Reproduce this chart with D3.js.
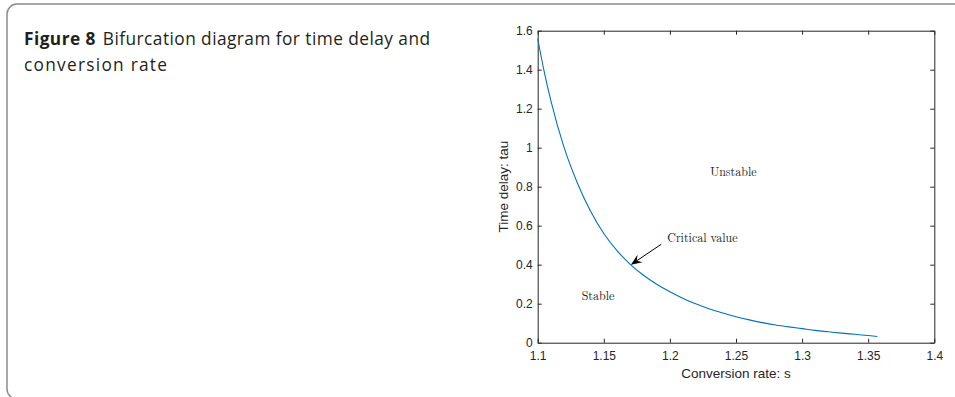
<!DOCTYPE html>
<html>
<head>
<meta charset="utf-8">
<script src="https://cdn.jsdelivr.net/npm/d3@7"></script>
<style>
  body { margin: 0; background: #fff; }
  svg { display: block; }
</style>
</head>
<body>
<div id="chart"></div>
<script>
// conversion rate s vs critical time delay tau
const convRate = [1.100, 1.105, 1.11, 1.12, 1.13, 1.14, 1.15, 1.16, 1.17, 1.18, 1.19, 1.20, 1.21, 1.22,
  1.23, 1.24, 1.25, 1.26, 1.27, 1.28, 1.29, 1.30, 1.31, 1.32, 1.33, 1.34, 1.35, 1.357];
const timeDelay = [1.56, 1.387, 1.24, 1.00, 0.819, 0.674, 0.560, 0.472, 0.402, 0.346, 0.300, 0.261, 0.227, 0.198,
  0.173, 0.152, 0.133, 0.117, 0.103, 0.091, 0.081, 0.072, 0.063, 0.056, 0.049, 0.043, 0.037, 0.032];

const xTicks = [1.1, 1.15, 1.2, 1.25, 1.3, 1.35, 1.4];
const xTickLabels = ["1.1", "1.15", "1.2", "1.25", "1.3", "1.35", "1.4"];
const yTicks = [0, 0.2, 0.4, 0.6, 0.8, 1, 1.2, 1.4, 1.6];
const yTickLabels = ["0", "0.2", "0.4", "0.6", "0.8", "1", "1.2", "1.4", "1.6"];

// annotations: [s, tau, text]
const regionLabels = [
  [1.248, 0.855, "Unstable"],
  [1.1456, 0.219, "Stable"]
];
const arrowTail = [1.1935, 0.505];
const arrowHead = [1.1705, 0.40];
const arrowText = [1.198, 0.518, "Critical value"];

const width = 955, height = 397;
const margin = { left: 537.7, right: 955 - 934.3, top: 30.7, bottom: 397 - 342.7 };

const svg = d3.select("#chart").append("svg")
  .attr("width", width)
  .attr("height", height);

// card frame with rounded corner
svg.append("rect")
  .attr("x", 7).attr("y", 4)
  .attr("width", 1000).attr("height", 395)
  .attr("rx", 10)
  .attr("fill", "none")
  .attr("stroke", "#8c8c8c")
  .attr("stroke-width", 1.5);

// caption
const capFont = "'Open Sans', sans-serif";
const cap = svg.append("text")
  .attr("x", 24).attr("y", 45)
  .attr("font-family", capFont)
  .attr("font-size", 17.3)
  .attr("fill", "#231f20")
  .attr("textLength", 406)
  .attr("lengthAdjust", "spacing");
cap.append("tspan").attr("font-weight", "bold").text("Figure 8");
cap.append("tspan").attr("dx", 7).text("Bifurcation diagram for time delay and");
svg.append("text")
  .attr("x", 24).attr("y", 71)
  .attr("font-family", capFont)
  .attr("font-size", 17.3)
  .attr("fill", "#231f20")
  .attr("textLength", 143)
  .attr("lengthAdjust", "spacing")
  .text("conversion rate");

const x = d3.scaleLinear().domain([1.1, 1.4]).range([margin.left, width - margin.right]);
const y = d3.scaleLinear().domain([0, 1.6]).range([height - margin.bottom, margin.top]);

const axisColor = "#262626";
const tickFont = "'Liberation Sans', Arial, sans-serif";

function styleAxis(g) {
  g.selectAll("path.domain").attr("stroke", axisColor).attr("stroke-width", 1);
  g.selectAll(".tick line").attr("stroke", axisColor);
  g.selectAll("text").attr("fill", axisColor).attr("font-family", tickFont).attr("font-size", 12);
}

// bottom axis (ticks inward)
svg.append("g")
  .attr("transform", `translate(0,${y(0)})`)
  .call(d3.axisBottom(x).tickValues(xTicks).tickFormat((d, i) => xTickLabels[i])
    .tickSizeInner(-4).tickSizeOuter(0).tickPadding(9))
  .call(styleAxis);

// left axis
svg.append("g")
  .attr("transform", `translate(${x(1.1)},0)`)
  .call(d3.axisLeft(y).tickValues(yTicks).tickFormat((d, i) => yTickLabels[i])
    .tickSizeInner(-4).tickSizeOuter(0).tickPadding(5))
  .call(styleAxis);

// top and right box lines
svg.append("g")
  .attr("transform", `translate(0,${y(1.6)})`)
  .call(d3.axisTop(x).tickValues(xTicks).tickFormat("").tickSizeInner(-4).tickSizeOuter(0))
  .call(styleAxis);
svg.append("g")
  .attr("transform", `translate(${x(1.4)},0)`)
  .call(d3.axisRight(y).tickValues(yTicks).tickFormat("").tickSizeInner(-4).tickSizeOuter(0))
  .call(styleAxis);

// axis labels
svg.append("text")
  .attr("x", (x(1.1) + x(1.4)) / 2).attr("y", 378)
  .attr("text-anchor", "middle")
  .attr("font-family", tickFont).attr("font-size", 13.5)
  .attr("fill", axisColor)
  .text("Conversion rate: s");

svg.append("text")
  .attr("transform", `translate(508,${(y(0) + y(1.6)) / 2}) rotate(-90)`)
  .attr("text-anchor", "middle")
  .attr("font-family", tickFont).attr("font-size", 13.5)
  .attr("fill", axisColor)
  .text("Time delay: tau");

// the critical curve
const pts = convRate.map((s, i) => [s, timeDelay[i]]);
const line = d3.line().x(d => x(d[0])).y(d => y(d[1])).curve(d3.curveMonotoneX);
svg.append("path")
  .datum(pts)
  .attr("d", line)
  .attr("fill", "none")
  .attr("stroke", "#0072BD")
  .attr("stroke-width", 1.1);

// region labels
const serif = "'Latin Modern Roman', 'DejaVu Serif', 'Liberation Serif', serif";
svg.selectAll(".region")
  .data(regionLabels)
  .enter().append("text")
  .attr("class", "region")
  .attr("x", d => x(d[0])).attr("y", d => y(d[1]))
  .attr("text-anchor", "middle")
  .attr("font-family", serif).attr("font-size", 12)
  .attr("fill", "#222")
  .text(d => d[2]);

svg.append("text")
  .attr("x", x(arrowText[0])).attr("y", y(arrowText[1]))
  .attr("font-family", serif).attr("font-size", 12)
  .attr("fill", "#222")
  .text(arrowText[2]);

// arrow
const tx = x(arrowTail[0]), ty = y(arrowTail[1]);
const hx = x(arrowHead[0]), hy = y(arrowHead[1]);
const len = Math.hypot(hx - tx, hy - ty);
const ux = (hx - tx) / len, uy = (hy - ty) / len;
const nx = -uy, ny = ux;
const hl = 11, hw = 4.5, notch = 7;
svg.append("line")
  .attr("x1", tx).attr("y1", ty)
  .attr("x2", hx - ux * notch).attr("y2", hy - uy * notch)
  .attr("stroke", "#000").attr("stroke-width", 1);
svg.append("path")
  .attr("d", `M${hx},${hy} L${hx - ux * hl + nx * hw},${hy - uy * hl + ny * hw} L${hx - ux * notch},${hy - uy * notch} L${hx - ux * hl - nx * hw},${hy - uy * hl - ny * hw} Z`)
  .attr("fill", "#000");
</script>
</body>
</html>
